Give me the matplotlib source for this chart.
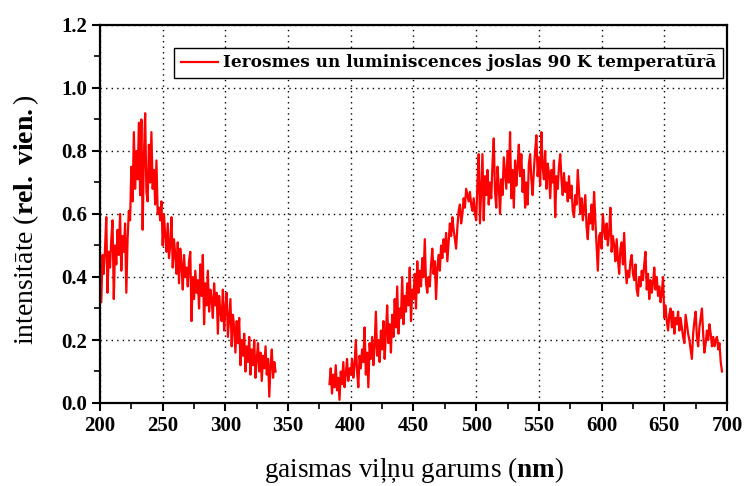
import numpy as np
import matplotlib
matplotlib.use("Agg")
import matplotlib.pyplot as plt
from matplotlib.ticker import MultipleLocator

# ---- data ----
x1_start, x1_step = 200, 1
y1 = [0.44, 0.32, 0.47, 0.41, 0.49, 0.59, 0.35, 0.48, 0.43, 0.52,
      0.58, 0.33, 0.50, 0.44, 0.55, 0.47, 0.60, 0.42, 0.53, 0.48,
      0.57, 0.35, 0.52, 0.61, 0.58, 0.75, 0.64, 0.86, 0.68, 0.80,
      0.71, 0.89, 0.66, 0.90, 0.55, 0.78, 0.92, 0.67, 0.64, 0.82,
      0.70, 0.86, 0.68, 0.74, 0.63, 0.77, 0.60, 0.62, 0.58, 0.64,
      0.50, 0.60, 0.53, 0.48, 0.57, 0.46, 0.50, 0.59, 0.43, 0.52,
      0.47, 0.41, 0.51, 0.38, 0.49, 0.44, 0.36, 0.47, 0.40, 0.43,
      0.37, 0.45, 0.48, 0.26, 0.40, 0.33, 0.42, 0.35, 0.39, 0.30,
      0.44, 0.34, 0.47, 0.25, 0.38, 0.31, 0.42, 0.29, 0.36, 0.33,
      0.27, 0.38, 0.31, 0.35, 0.22, 0.34, 0.29, 0.26, 0.36, 0.23,
      0.30, 0.35, 0.21, 0.27, 0.33, 0.18, 0.28, 0.24, 0.16, 0.26,
      0.19, 0.27, 0.12, 0.20, 0.15, 0.22, 0.10, 0.18, 0.13, 0.21,
      0.09, 0.17, 0.12, 0.20, 0.08, 0.14, 0.19, 0.10, 0.16, 0.07,
      0.15, 0.11, 0.18, 0.09, 0.14, 0.02, 0.12, 0.17, 0.08, 0.13,
      0.10]

x2_start, x2_step = 383, 1
y2 = [0.06, 0.11, 0.03, 0.09, 0.05, 0.12, 0.04,
      0.08, 0.01, 0.10, 0.06, 0.13, 0.05, 0.09, 0.14, 0.07, 0.11,
      0.09, 0.14, 0.08, 0.12, 0.20, 0.10, 0.05, 0.15, 0.11, 0.17,
      0.13, 0.24, 0.09, 0.16, 0.05, 0.19, 0.14, 0.21, 0.12, 0.18,
      0.29, 0.15, 0.20, 0.13, 0.23, 0.17, 0.26, 0.14, 0.22, 0.31,
      0.19, 0.25, 0.16, 0.28, 0.21, 0.33, 0.24, 0.37, 0.22, 0.30,
      0.27, 0.40, 0.25, 0.34, 0.29, 0.38, 0.31, 0.43, 0.26, 0.36,
      0.33, 0.41, 0.30, 0.45, 0.35, 0.42, 0.37, 0.46, 0.40, 0.52,
      0.38, 0.35, 0.40, 0.37, 0.44, 0.49, 0.41, 0.45, 0.33, 0.43,
      0.47, 0.42, 0.50, 0.46, 0.52, 0.48, 0.54, 0.45, 0.51, 0.57,
      0.53, 0.59, 0.55, 0.52, 0.49, 0.56, 0.61, 0.63, 0.57, 0.60,
      0.65, 0.62, 0.68, 0.66, 0.64, 0.67, 0.63, 0.61, 0.65, 0.60,
      0.58, 0.70, 0.79, 0.57, 0.68, 0.79, 0.58, 0.72, 0.66, 0.74,
      0.63, 0.70, 0.65, 0.76, 0.84, 0.67, 0.62, 0.75, 0.69, 0.60,
      0.71, 0.66, 0.78, 0.73, 0.68, 0.80, 0.70, 0.86, 0.65, 0.74,
      0.62, 0.77, 0.69, 0.75, 0.82, 0.72, 0.79, 0.67, 0.74, 0.62,
      0.70, 0.63, 0.76, 0.79, 0.71, 0.66, 0.74, 0.80, 0.85, 0.72,
      0.78, 0.69, 0.86, 0.75, 0.71, 0.80, 0.68, 0.76, 0.73, 0.65,
      0.74, 0.70, 0.77, 0.59, 0.72, 0.68, 0.75, 0.79, 0.71, 0.66,
      0.73, 0.67, 0.70, 0.64, 0.72, 0.65, 0.69, 0.61, 0.59, 0.66,
      0.63, 0.74, 0.67, 0.60, 0.65, 0.58, 0.62, 0.66, 0.56, 0.52,
      0.60, 0.57, 0.63, 0.55, 0.67, 0.58, 0.50, 0.42, 0.53, 0.54,
      0.49, 0.60, 0.55, 0.52, 0.57, 0.50, 0.54, 0.62, 0.48, 0.53,
      0.50, 0.45, 0.52, 0.46, 0.41, 0.49, 0.51, 0.44, 0.54, 0.43,
      0.38, 0.42, 0.40, 0.45, 0.47, 0.41, 0.39, 0.44, 0.36, 0.34,
      0.40, 0.37, 0.42, 0.39, 0.44, 0.48, 0.36, 0.41, 0.33, 0.39,
      0.35, 0.38, 0.43, 0.36, 0.40, 0.34, 0.37, 0.32, 0.35, 0.40,
      0.27, 0.31, 0.26, 0.23, 0.28, 0.30, 0.24, 0.29, 0.22, 0.27,
      0.25, 0.29, 0.23, 0.27, 0.24, 0.21, 0.19, 0.28, 0.25, 0.22,
      0.20, 0.17, 0.14, 0.22, 0.26, 0.29, 0.21, 0.18, 0.24, 0.27,
      0.30, 0.22, 0.16, 0.19, 0.23, 0.20, 0.25, 0.22, 0.18, 0.21,
      0.18, 0.20, 0.21, 0.17, 0.19, 0.13, 0.10]

legend_label = "Ierosmes un luminiscences joslas 90 K temperatūrā"
xlabel = "gaismas viļņu garums ($\\mathbf{nm}$)"
ylabel = "intensitāte ($\\mathbf{rel.\\ vien.}$)"

x1 = x1_start + x1_step * np.arange(len(y1))
x2 = x2_start + x2_step * np.arange(len(y2))

plt.rcParams['font.family'] = ['Liberation Serif', 'DejaVu Serif']
plt.rcParams['mathtext.fontset'] = 'custom'
plt.rcParams['mathtext.rm'] = 'Liberation Serif'
plt.rcParams['mathtext.bf'] = 'Liberation Serif:bold'
plt.rcParams['mathtext.it'] = 'Liberation Serif:italic'

fig = plt.figure(figsize=(7.44, 4.86), dpi=100)
ax = fig.add_axes([100/744, 1-403/486, 627/744, 378/486])

line, = ax.plot(x1, y1, color='#ff0000', lw=1.6, label=legend_label)
ax.plot(x2, y2, color='#ff0000', lw=1.6)

ax.set_xlim(200, 700)
ax.set_ylim(0, 1.2)
ax.xaxis.set_major_locator(MultipleLocator(50))
ax.xaxis.set_minor_locator(MultipleLocator(25))
ax.yaxis.set_major_locator(MultipleLocator(0.2))
ax.yaxis.set_minor_locator(MultipleLocator(0.1))
ax.yaxis.set_major_formatter(matplotlib.ticker.FormatStrFormatter('%.1f'))

ax.tick_params(which='major', direction='out', length=6, width=1.5,
               labelsize=15)
ax.tick_params(which='minor', direction='out', length=4, width=1.2)
for lab in ax.get_xticklabels() + ax.get_yticklabels():
    lab.set_fontweight('bold')

for sp in ax.spines.values():
    sp.set_linewidth(1.6)

ax.grid(True, which='major', color='black', linestyle=(0, (1, 3)), lw=1.0)

ax.set_xlabel(xlabel, fontsize=19.5, va='center')
ax.xaxis.set_label_coords(0.5, -0.178)
ax.set_ylabel(ylabel, fontsize=20, va='center')
ax.yaxis.set_label_coords(-0.118, 0.485)

leg = ax.legend(loc='upper right', bbox_to_anchor=(0.994, 0.94),
                prop={'family': 'DejaVu Serif', 'weight': 'bold', 'size': 12.2},
                frameon=True, fancybox=False, handlelength=2.2,
                borderpad=0.4, handletextpad=0.3, borderaxespad=0.0)
leg.get_frame().set_edgecolor('black')
leg.get_frame().set_linewidth(1.0)
leg.get_frame().set_alpha(1)

fig.savefig("out.png", dpi=100)
